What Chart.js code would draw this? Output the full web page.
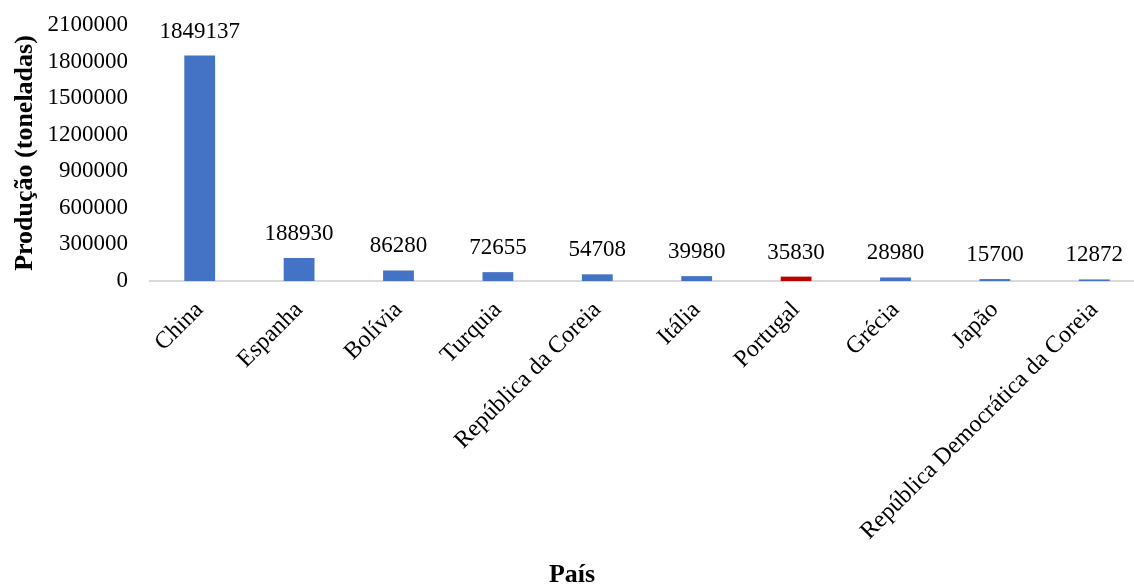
<!DOCTYPE html>
<html>
<head>
<meta charset="utf-8">
<script src="https://cdn.jsdelivr.net/npm/chart.js@4/dist/chart.umd.min.js"></script>
<style>
  html, body { margin: 0; padding: 0; background: #fff; overflow: hidden; }
  #wrap { width: 1144px; height: 588px; position: relative; }
</style>
</head>
<body>
<div id="wrap"><canvas id="producaoChart"></canvas></div>
<script>
// dados do gráfico
const paises = ['China', 'Espanha', 'Bolívia', 'Turquia', 'República da Coreia', 'Itália', 'Portugal', 'Grécia', 'Japão', 'República Democrática da Coreia'];
const producao = [1849137, 188930, 86280, 72655, 54708, 39980, 35830, 28980, 15700, 12872];
const destaque = 'Portugal';

const serif = "'Liberation Serif', 'Times New Roman', serif";
const azul = '#4472C4';
const vermelho = '#C00000';

const corBarras = paises.map(p => p === destaque ? vermelho : azul);

// rótulos de valor acima das barras
const rotulosValor = {
    id: 'rotulosValor',
    afterDatasetsDraw(chart) {
        const ctx = chart.ctx;
        const meta = chart.getDatasetMeta(0);
        ctx.save();
        ctx.font = '23px ' + serif;
        ctx.fillStyle = '#000';
        ctx.textAlign = 'center';
        ctx.textBaseline = 'alphabetic';
        meta.data.forEach((bar, i) => {
            ctx.fillText(String(chart.data.datasets[0].data[i]), bar.x, bar.y - 18);
        });
        ctx.restore();
    }
};

new Chart(document.getElementById('producaoChart'), {
    type: 'bar',
    data: {
        labels: paises,
        datasets: [{
            data: producao,
            backgroundColor: corBarras,
            borderWidth: 0,
            barPercentage: 0.31,
            categoryPercentage: 1
        }]
    },
    options: {
        responsive: true,
        maintainAspectRatio: false,
        animation: false,
        layout: {
            padding: { top: 25, right: 0, bottom: 0, left: 0 }
        },
        plugins: {
            legend: { display: false },
            tooltip: { enabled: false },
            title: {
                display: true,
                position: 'bottom',
                text: 'País',
                color: '#000',
                font: { family: serif, size: 26, weight: 'bold', lineHeight: 1.0 },
                padding: { top: 0, bottom: 0 }
            }
        },
        scales: {
            x: {
                grid: { display: false, drawTicks: false },
                border: { display: true, color: '#d9d9d9', width: 2 },
                ticks: {
                    color: '#000',
                    font: { family: serif, size: 24 },
                    minRotation: 45,
                    maxRotation: 45,
                    autoSkip: false,
                    padding: 15
                },
                afterFit(scale) {
                    scale.height = 281;
                }
            },
            y: {
                min: 0,
                max: 2100000,
                // marcas escondidas, só para afastar os rótulos do eixo
                grid: { display: false, drawTicks: true, tickLength: 20 },
                border: { display: false },
                ticks: {
                    stepSize: 300000,
                    color: '#000',
                    font: { family: serif, size: 23 },
                    padding: 2,
                    callback: value => String(value)
                },
                title: {
                    display: true,
                    text: 'Produção (toneladas)',
                    color: '#000',
                    font: { family: serif, size: 26, weight: 'bold', lineHeight: 1.2 },
                    padding: { top: 10, bottom: 0 }
                },
                afterFit(scale) {
                    scale.width = 150;
                }
            }
        }
    },
    plugins: [rotulosValor]
});
</script>
</body>
</html>
